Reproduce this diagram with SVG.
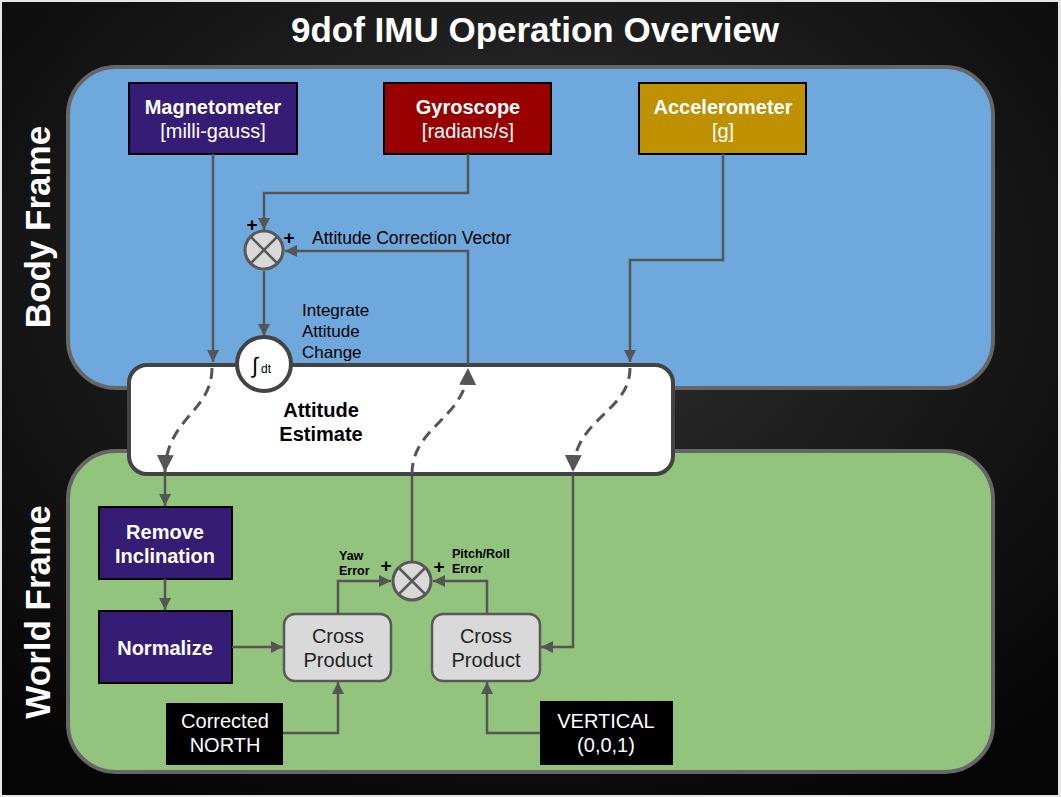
<svg xmlns="http://www.w3.org/2000/svg" width="1061" height="797" viewBox="0 0 1061 797">
<defs>
<radialGradient id="bg" cx="0.5" cy="0.35" r="0.75">
<stop offset="0" stop-color="#333333"/>
<stop offset="0.6" stop-color="#161616"/>
<stop offset="1" stop-color="#050505"/>
</radialGradient>
<marker id="ah" markerUnits="userSpaceOnUse" markerWidth="12" markerHeight="12" viewBox="0 0 12 12" refX="12" refY="6" orient="auto">
<path d="M0,0 L12,6 L0,12 z" fill="#555"/>
</marker>
<marker id="ahd" markerUnits="userSpaceOnUse" markerWidth="17" markerHeight="17" viewBox="0 0 16 16" refX="16" refY="8" orient="auto">
<path d="M0,0 L16,8 L0,16 z" fill="#555"/>
</marker>
<style>
.t{font-family:"Liberation Sans",Arial,sans-serif}
.w{fill:#fff}
.b{font-weight:bold}
.sensor{stroke:#000;stroke-width:2}
.ln{fill:none;stroke:#555;stroke-width:2.5}
.dash{fill:none;stroke:#555;stroke-width:3;stroke-dasharray:11 7}
.cp{fill:#d9d9d9;stroke:#595959;stroke-width:2.5}
.sum{fill:#d9d9d9;stroke:#595959;stroke-width:3}
.blk{fill:#000}
</style>
</defs>
<rect x="0" y="0" width="1061" height="797" fill="#e6e6e6"/>
<rect x="2" y="2" width="1056" height="793" fill="url(#bg)"/>

<text class="t w b" x="535" y="42" font-size="35" text-anchor="middle">9dof IMU Operation Overview</text>

<g id="body-frame">
<rect x="68" y="67" width="925" height="321" rx="48" fill="#6fa8dc" stroke="#666" stroke-width="4"/>
<text class="t w b" transform="translate(50,227) rotate(-90)" font-size="35" text-anchor="middle">Body Frame</text>
</g>
<g id="world-frame">
<rect x="68" y="451" width="925" height="321" rx="48" fill="#93c47d" stroke="#666" stroke-width="4"/>
<text class="t w b" transform="translate(50,612) rotate(-90)" font-size="35" text-anchor="middle">World Frame</text>
</g>

<g id="attitude-estimate">
<rect x="129" y="365" width="544" height="109" rx="18" fill="#fff" stroke="#434343" stroke-width="4"/>
<text class="t b" x="321" y="417" font-size="20" text-anchor="middle">Attitude</text>
<text class="t b" x="321" y="441" font-size="20" text-anchor="middle">Estimate</text>
</g>

<g id="magnetometer">
<rect class="sensor" x="129" y="83" width="168" height="71" fill="#351c75"/>
<text class="t w b" x="213" y="114" font-size="20" text-anchor="middle">Magnetometer</text>
<text class="t w" x="213" y="138" font-size="20" text-anchor="middle">[milli-gauss]</text>
</g>
<g id="gyroscope">
<rect class="sensor" x="384" y="83" width="167" height="71" fill="#990000"/>
<text class="t w b" x="468" y="114" font-size="20" text-anchor="middle">Gyroscope</text>
<text class="t w" x="468" y="138" font-size="20" text-anchor="middle">[radians/s]</text>
</g>
<g id="accelerometer">
<rect class="sensor" x="639" y="83" width="167" height="71" fill="#bf9000"/>
<text class="t w b" x="723" y="114" font-size="20" text-anchor="middle">Accelerometer</text>
<text class="t w" x="723" y="138" font-size="20" text-anchor="middle">[g]</text>
</g>

<g id="remove-inclination">
<rect class="sensor" x="99" y="507" width="133" height="72" fill="#351c75"/>
<text class="t w b" x="165" y="539" font-size="20" text-anchor="middle">Remove</text>
<text class="t w b" x="165" y="563" font-size="20" text-anchor="middle">Inclination</text>
</g>
<g id="normalize">
<rect class="sensor" x="99" y="611" width="133" height="72" fill="#351c75"/>
<text class="t w b" x="165" y="655" font-size="20" text-anchor="middle">Normalize</text>
</g>
<g id="cross-product-1">
<rect class="cp" x="284" y="614" width="107" height="67" rx="11"/>
<text class="t" x="338" y="643" font-size="20" text-anchor="middle" fill="#222">Cross</text>
<text class="t" x="338" y="667" font-size="20" text-anchor="middle" fill="#222">Product</text>
</g>
<g id="cross-product-2">
<rect class="cp" x="432" y="614" width="108" height="67" rx="11"/>
<text class="t" x="486" y="643" font-size="20" text-anchor="middle" fill="#222">Cross</text>
<text class="t" x="486" y="667" font-size="20" text-anchor="middle" fill="#222">Product</text>
</g>
<g id="corrected-north">
<rect class="blk" x="166" y="703" width="117" height="62"/>
<text class="t w" x="225" y="728" font-size="20" text-anchor="middle">Corrected</text>
<text class="t w" x="225" y="752" font-size="20" text-anchor="middle">NORTH</text>
</g>
<g id="vertical">
<rect class="blk" x="540" y="701" width="133" height="64"/>
<text class="t w" x="606" y="728" font-size="20" text-anchor="middle">VERTICAL</text>
<text class="t w" x="606" y="752" font-size="20" text-anchor="middle">(0,0,1)</text>
</g>

<g id="connectors">
<path class="ln" d="M213,154 V362" marker-end="url(#ah)"/>
<path class="ln" d="M468,154 V193 H264 V230" marker-end="url(#ah)"/>
<path class="ln" d="M468,365 V251 H285" marker-end="url(#ah)"/>
<path class="ln" d="M264,271 V336" marker-end="url(#ah)"/>
<path class="ln" d="M723,154 V260 H630 V362" marker-end="url(#ah)"/>
<path class="dash" d="M212,368 C212,412 166,418 165,472" marker-end="url(#ahd)"/>
<path class="dash" d="M412,474 C412,426 467,418 468,368" marker-end="url(#ahd)"/>
<path class="dash" d="M630,368 C630,412 574,418 573,472" marker-end="url(#ahd)"/>
<path class="ln" d="M165,476 V506" marker-end="url(#ah)"/>
<path class="ln" d="M573,476 V647 H541" marker-end="url(#ah)"/>
<path class="ln" d="M165,579 V610" marker-end="url(#ah)"/>
<path class="ln" d="M232,647 H283" marker-end="url(#ah)"/>
<path class="ln" d="M283,733 H338 V682" marker-end="url(#ah)"/>
<path class="ln" d="M540,733 H487 V682" marker-end="url(#ah)"/>
<path class="ln" d="M338,614 V581 H391" marker-end="url(#ah)"/>
<path class="ln" d="M487,614 V581 H433" marker-end="url(#ah)"/>
<path class="ln" d="M412,561 V476"/>
</g>

<g id="sum-1">
<circle class="sum" cx="264" cy="250" r="19"/>
<path d="M250.5,236.5 L277.5,263.5 M277.5,236.5 L250.5,263.5" stroke="#595959" stroke-width="2.5"/>
<text class="t b" x="252" y="231" font-size="19" text-anchor="middle">+</text>
<text class="t b" x="289" y="244" font-size="19" text-anchor="middle">+</text>
<text class="t" x="312" y="244" font-size="17.5">Attitude Correction Vector</text>
</g>
<g id="integrator">
<circle cx="264" cy="364" r="27" fill="#fff" stroke="#434343" stroke-width="4"/>
<text class="t" x="252" y="373" font-size="22">∫</text>
<text class="t" x="261" y="373" font-size="12">dt</text>
<text class="t" x="302" y="316" font-size="17">Integrate</text>
<text class="t" x="302" y="337" font-size="17">Attitude</text>
<text class="t" x="302" y="358" font-size="17">Change</text>
</g>
<g id="sum-2">
<circle class="sum" cx="412" cy="581" r="19"/>
<path d="M398.5,567.5 L425.5,594.5 M425.5,567.5 L398.5,594.5" stroke="#595959" stroke-width="2.5"/>
<text class="t b" x="386" y="572" font-size="19" text-anchor="middle">+</text>
<text class="t b" x="439" y="573" font-size="19" text-anchor="middle">+</text>
<text class="t b" x="339" y="560" font-size="12.5">Yaw</text>
<text class="t b" x="339" y="575" font-size="12.5">Error</text>
<text class="t b" x="452" y="558" font-size="12.5">Pitch/Roll</text>
<text class="t b" x="452" y="573" font-size="12.5">Error</text>
</g>
</svg>
